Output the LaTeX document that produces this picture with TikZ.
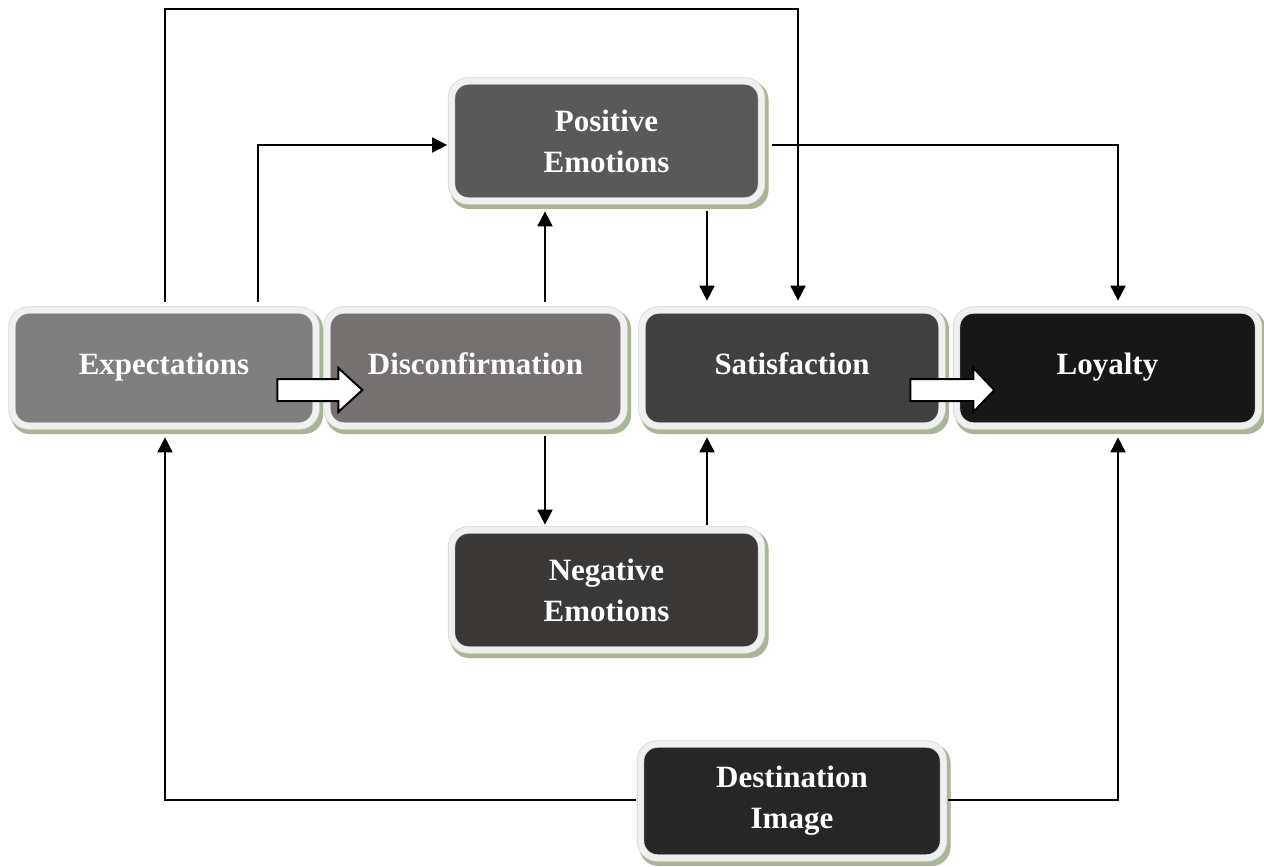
\documentclass[tikz,border=0pt]{standalone}
\usepackage{fontspec}
\setmainfont{Liberation Serif}
\usetikzlibrary{calc,arrows.meta,backgrounds}
\definecolor{cexp}{HTML}{7F7F7F}
\definecolor{cdis}{HTML}{767171}
\definecolor{csat}{HTML}{404040}
\definecolor{cloy}{HTML}{171717}
\definecolor{cpos}{HTML}{595959}
\definecolor{cneg}{HTML}{3B3838}
\definecolor{cdst}{HTML}{262626}
\definecolor{framec}{HTML}{F0F0F0}
\definecolor{edgec}{HTML}{D2D2D2}
\definecolor{shadowc}{HTML}{A9B597}
\tikzset{
  box/.style={rounded corners=17pt, draw=edgec, double=framec, double distance=6pt,
    line width=0.7pt, text=white, align=center, inner sep=0pt,
    font=\fontsize{31}{41}\selectfont\bfseries},
  oneline/.style={text height=21pt, text depth=9pt},
  arr/.style={line width=1.8pt, -{Triangle[length=15pt,width=15pt]}},
  blockarrow/.style={draw=black, fill=white, line width=2pt, line join=miter},
  shadowbox/.style={fill=shadowc, rounded corners=19pt}
}
\newcommand{\boxshadow}[1]{%
  \fill[shadowbox] ($(#1.north west)+(-0.7,0.3)$) rectangle ($(#1.south east)+(6.7,7.7)$);}
\begin{document}
\begin{tikzpicture}[x=1pt,y=-1pt]
\useasboundingbox (0,0) rectangle (1264,867);
% boxes
\node[box, oneline, fill=cexp, minimum width=304pt, minimum height=116pt] (exp) at (164,368) {Expectations};
\node[box, oneline, fill=cdis, minimum width=297pt, minimum height=116pt] (dis) at (475.5,368) {Disconfirmation};
\node[box, oneline, fill=csat, minimum width=300pt, minimum height=116pt] (sat) at (792,368) {Satisfaction};
\node[box, oneline, fill=cloy, minimum width=302pt, minimum height=116pt] (loy) at (1107.5,368) {Loyalty};
\node[box, fill=cpos, minimum width=310pt, minimum height=120pt] (pos) at (606.5,141) {Positive\\Emotions};
\node[box, fill=cneg, minimum width=310pt, minimum height=120pt] (neg) at (606.5,590) {Negative\\Emotions};
\node[box, fill=cdst, minimum width=303pt, minimum height=114pt] (dst) at (792,801) {Destination\\Image};
\begin{pgfonlayer}{background}
\boxshadow{exp}\boxshadow{dis}\boxshadow{sat}\boxshadow{loy}
\boxshadow{pos}\boxshadow{neg}\boxshadow{dst}
\end{pgfonlayer}
% connectors
\draw[arr] ($(exp.north)+(1,-8)$) -- ++(0,-293) -| ($(sat.north)+(6,-9)$);
\draw[arr] ($(exp.north)+(94,-8)$) |- ($(pos.west)+(-4,4)$);
\draw[arr] ($(dis.north)+(69.5,-8)$) -- ($(pos.south)+(-61.5,10)$);
\draw[arr] ($(pos.south)+(100.5,10)$) -- ($(sat.north)+(-85,-9)$);
\draw[arr] ($(pos.east)+(10,4)$) -| ($(loy.north)+(10.5,-9)$);
\draw[arr] ($(dis.south)+(69.5,10)$) -- ($(neg.north)+(-61.5,-5)$);
\draw[arr] ($(neg.north)+(100.5,-5)$) -- ($(sat.south)+(-85,11)$);
\draw[arr] ($(dst.west)+(-4,-1)$) -| ($(exp.south)+(1,11)$);
\draw[arr] ($(dst.east)+(4,-1)$) -| ($(loy.south)+(10.5,11)$);
% block arrows
\draw[blockarrow] ($(exp.east)+(-39,11)$) -- ++(61,0) -- ++(0,-11) -- ++(24,22) -- ++(-24,22) -- ++(0,-11) -- ++(-61,0) -- cycle;
\draw[blockarrow] ($(sat.east)+(-32,11)$) -- ++(63,0) -- ++(0,-11) -- ++(21,22) -- ++(-21,22) -- ++(0,-11) -- ++(-63,0) -- cycle;
\end{tikzpicture}
\end{document}
